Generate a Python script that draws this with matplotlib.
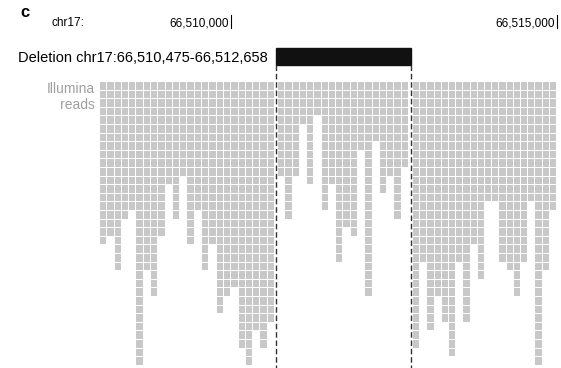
import matplotlib
matplotlib.use("Agg")
import matplotlib.pyplot as plt
import numpy as np

# 读段堆积高度（每列读段数），按缺失区左 / 中 / 右三段
left_depth = [19, 18, 22, 16, 15, 33, 22, 25, 18, 12, 16, 11,
              19, 15, 22, 19, 27, 25, 24, 31, 33, 29, 31, 28]
mid_depth = [11, 16, 11, 5, 12, 4, 15, 12, 21, 17, 18, 8,
             25, 7, 13, 11, 16, 10]
right_depth = [31, 21, 29, 25, 28, 32, 21, 28, 19, 23, 14, 14,
               21, 22, 25, 21, 14, 33, 22, 15]

chrom = "chr17"
tick_labels = ["66,510,000", "66,515,000"]
del_start, del_end = "66,510,475", "66,512,658"

plt.rcParams["font.family"] = ["Liberation Sans", "DejaVu Sans"]

fig = plt.figure(figsize=(5.61, 3.68), dpi=100)
ax = fig.add_axes([0, 0, 1, 1])
ax.set_xlim(0, 561)
ax.set_ylim(368, 0)
ax.axis("off")

# block layout (x range in pixels)
blocks = [(left_depth, 100, 275), (mid_depth, 278, 409), (right_depth, 413, 557)]
row_top, row_pitch, tile_h = 82, 8.6, 7.6

edges = []
for depth, x0, x1 in blocks:
    pitch = (x1 - x0) / len(depth)
    xs, ys = [], []
    for i, d in enumerate(depth):
        for r in range(d):
            xs.append(x0 + pitch * i)
            ys.append(row_top + row_pitch * r)
    ax.bar(xs, tile_h, width=pitch - 1.0, bottom=ys, align="edge",
           color="#c8c8c8", edgecolor="none")
    edges.append((x0, x1))

# deletion boundaries
dx0 = (edges[0][1] + edges[1][0]) / 2
dx1 = (edges[1][1] + edges[2][0]) / 2
for xv in (dx0, dx1):
    ax.plot([xv, xv], [65, 368], color="#333333", lw=1, ls=(0, (4, 2)))
ax.add_patch(plt.Rectangle((dx0, 48), dx1 - dx0, 17, color="#111111"))

# header text
ax.text(20, 17, "c", fontsize=12, fontweight="bold", va="baseline", ha="left")
ax.text(52, 26, chrom + ":", fontsize=8.5, va="baseline")
ax.text(229, 26, tick_labels[0], fontsize=8.5, va="baseline", ha="right")
ax.text(555, 26, tick_labels[1], fontsize=8.5, va="baseline", ha="right")
for xv in (231, 557):
    ax.plot([xv, xv], [15, 28], color="black", lw=0.8)

ax.text(18, 62, f"Deletion {chrom}:{del_start}-{del_end}", fontsize=10.5,
        va="baseline", ha="left")
ax.text(95, 93, "Illumina", fontsize=10, color="#a0a0a0", ha="right", va="baseline")
ax.text(95, 109, "reads", fontsize=10, color="#a0a0a0", ha="right", va="baseline")

fig.savefig("out.png", dpi=100)
